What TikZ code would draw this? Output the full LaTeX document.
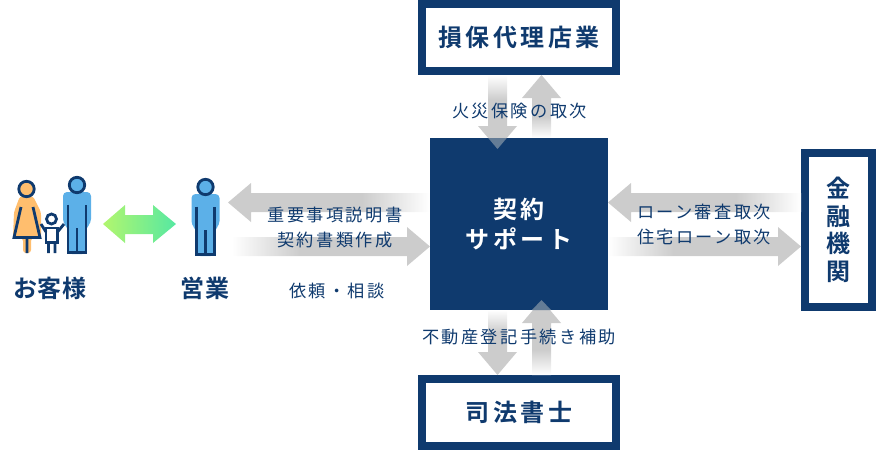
\documentclass[tikz,border=0pt]{standalone}
\usepackage{fontspec}
\setmainfont{Noto Sans CJK JP}
\usepackage{xcolor}
\usepackage{tikz}
\usetikzlibrary{calc, positioning}
\definecolor{navy}{RGB}{15,58,110}
\definecolor{arrowgray}{RGB}{204,204,204}
\definecolor{tipgray}{RGB}{100,124,150}
\definecolor{skinorg}{RGB}{255,190,110}
\definecolor{shirtblue}{RGB}{92,176,232}
\definecolor{greenl}{RGB}{178,246,110}
\definecolor{greenr}{RGB}{86,232,162}
\newfontfamily\labelfont[LetterSpace=14]{Noto Sans CJK JP}
\newfontfamily\titlefont[LetterSpace=14]{Noto Sans CJK JP Bold}
\newfontfamily\namefont[LetterSpace=2]{Noto Sans CJK JP Bold}
\pgfdeclarehorizontalshading{arrowramp}{100bp}{color(0bp)=(white); color(25bp)=(white); color(42bp)=(arrowgray); color(100bp)=(arrowgray)}
\tikzset{
  probox/.style={rectangle, draw=navy, line width=8pt, fill=white, align=center, inner sep=0pt,
    text=navy, font=\fontsize{24}{27.5}\titlefont},
  supportbox/.style={rectangle, fill=navy, text=white, align=center, inner sep=0pt,
    minimum width=178pt, minimum height=172pt, font=\fontsize{24}{30}\titlefont},
  steplabel/.style={text=navy, align=center, inner sep=0pt, font=\fontsize{17.2}{25}\labelfont},
  namelabel/.style={text=navy, inner sep=0pt, font=\fontsize{24}{26}\namefont},
  bigarr/.style={shading=arrowramp},
  outline/.style={draw=navy, line width=2.8pt},
}
% block arrow: from, to, shading angle
\newcommand{\blockarrow}[3]{
  \coordinate (arrS) at #1;
  \coordinate (arrT) at #2;
  \coordinate (arrH) at ($(arrT)!23pt!(arrS)$);
  \shade[bigarr, shading angle=#3] ($(arrS)!9.5pt!-90:(arrT)$) -- ($(arrH)!9.5pt!-90:(arrT)$)
    -- ($(arrH)!19.5pt!-90:(arrT)$) -- (arrT) -- ($(arrH)!19.5pt!90:(arrT)$)
    -- ($(arrH)!9.5pt!90:(arrT)$) -- ($(arrS)!9.5pt!90:(arrT)$) -- cycle;
}
\tikzset{
  manpic/.pic={
    \fill[shirtblue, rounded corners=4pt] (-14,7) -- (14,7) -- (14,38) -- (9,43) -- (9,69) -- (-9,69) -- (-9,43) -- (-14,38) -- cycle;
    \draw[outline, fill=shirtblue] (0,0) circle (7.7);
    \draw[outline] (-9,19.5) -- (-9,67.7) -- (9,67.7) -- (9,19.5) (0,43) -- (0,67.7);
  },
}
\begin{document}
\begin{tikzpicture}[x=1pt, y=-1pt]
  \useasboundingbox (0,0) rectangle (876,450);
  % professionals
  \node[probox, minimum width=194pt, minimum height=67pt] (insurance) at (519,37.5) {損保代理店業};
  \node[probox, minimum width=194pt, minimum height=67pt] (scrivener) at (519,412.5) {司法書士};
  \node[probox, minimum width=67pt, minimum height=154pt] (bank) at (838.5,230) {金\\融\\機\\関};
  \coordinate (supportC) at (519,224);
  % arrows round the support box
  \blockarrow{([xshift=-21.5pt]insurance.south)}{([xshift=-21.5pt]supportC |- 0,149)}{-90}
  \blockarrow{([xshift=22.5pt]supportC |- 0,138)}{([xshift=22.5pt]insurance.south)}{90}
  \blockarrow{([xshift=-21.5pt]supportC |- 0,310)}{([xshift=-21.5pt]scrivener.north)}{-90}
  \blockarrow{([xshift=22.5pt]scrivener.north)}{([xshift=22.5pt]supportC |- 0,300)}{90}
  \coordinate (salesR) at (228,202.5);
  \coordinate (salesS) at (232,246.5);
  \blockarrow{(430,202.5)}{(salesR)}{180}
  \blockarrow{(salesS)}{(430,246.5)}{0}
  \blockarrow{([yshift=27.5pt]bank.west)}{(608,202.5)}{180}
  \blockarrow{(608,246.5)}{([yshift=-16.5pt]bank.west)}{0}
  \node[supportbox] (support) at (supportC) {契約\\サポート};
  % arrow tips over the support box
  \fill[tipgray] (488.2,138) -- (497.5,149) -- (506.8,138) -- cycle;
  \fill[tipgray] (532,310) -- (541.5,300) -- (551,310) -- cycle;
  % labels on the arrows
  \node[steplabel] (firelabel) at (519.5,111) {火災保険の取次};
  \node[steplabel] (legallabel) at (519,337) {不動産登記手続き補助};
  \node[steplabel] (saleslabel) at (335,227.5) {重要事項説明書\\契約書類作成};
  \node[steplabel] (asklabel) at (337,291) {依頼・相談};
  \node[steplabel] (loanlabel) at (704,224.5) {ローン審査取次\\住宅ローン取次};
  % people
  \node[namelabel] (customer) at (50,288) {お客様};
  \node[namelabel] (sales) at (205,288) {営業};
  \pic at (205.5,187) {manpic};
  \pic at (77,185) {manpic};
  \fill[skinorg, rounded corners=3pt] (20,196) -- (33,196) -- (41,212) -- (41,238) -- (31,238) -- (31,253) -- (23,253) -- (23,238) -- (13,238) -- (14,212) -- cycle;
  \draw[outline, fill=skinorg] (26.5,189) circle (7.7);
  \draw[outline, line join=miter] (21,207) -- (14,237.5) -- (40,237.5) -- (33,207) (27,238) -- (27,253);
  \draw[outline, fill=white] (51.5,219) circle (5);
  \draw[outline, fill=white] (46,228) -- (57.5,228) -- (57.5,242.5) -- (46,242.5) -- cycle;
  \draw[outline] (41,224) -- (46,232) (64,224) -- (57.5,232) (48.5,243) -- (48.5,253) (55,243) -- (55,253);
  % green exchange arrow
  \coordinate (greenA) at (103,224);
  \coordinate (greenB) at (176,224);
  \shade[left color=greenl, right color=greenr] (greenA) -- ++(22,-19) -- ++(0,10) -- ++(28,0) -- ++(0,-10)
    -- (greenB) -- ++(-23,19) -- ++(0,-9) -- ++(-28,0) -- ++(0,9) -- cycle;
\end{tikzpicture}
\end{document}
